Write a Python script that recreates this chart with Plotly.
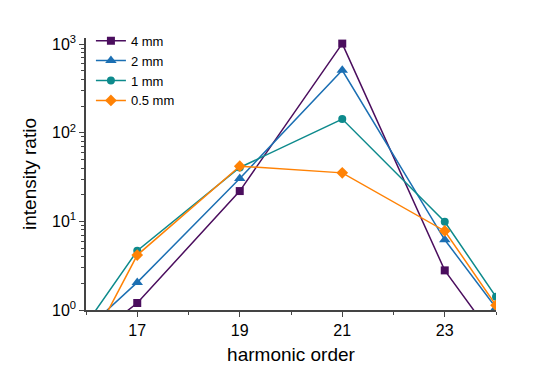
import plotly.graph_objects as go

# harmonic order (the outer points lie below 1 and are clipped by the axes)
harmonic = [16, 17, 19, 21, 23, 24]

ratio_4mm = [0.42, 1.2, 22, 1016, 2.8, 0.45]
ratio_2mm = [0.6, 2.05, 30.5, 508, 6.2, 1.06]
ratio_1mm = [0.69, 4.66, 40.6, 143, 9.9, 1.41]
ratio_05mm = [0.33, 4.17, 42, 35.3, 7.8, 1.13]

series = [
    ("4 mm", ratio_4mm, "#4b0e5e", "square", 8),
    ("2 mm", ratio_2mm, "#1b6fb3", "triangle-up", 10),
    ("1 mm", ratio_1mm, "#0d8a8c", "circle", 8),
    ("0.5 mm", ratio_05mm, "#ff8205", "diamond", 9),
]

x_ticks = [17, 19, 21, 23]
y_ticks = [1, 10, 100, 1000]
y_ticktext = ["10<sup>0</sup>", "10<sup>1</sup>", "10<sup>2</sup>", "10<sup>3</sup>"]
y_minor = [m * d for d in (1, 10, 100) for m in range(2, 10)]

fig = go.Figure()
for name, vals, col, sym, msize in series:
    fig.add_trace(go.Scatter(
        x=harmonic,
        y=vals,
        name=name,
        mode="lines+markers",
        line=dict(color=col, width=1.5),
        marker=dict(color=col, symbol=sym, size=msize),
    ))

# page body has an 8px margin, so the figure is 8px smaller and shifted
fig.update_layout(
    width=532, height=371,
    margin=dict(l=78, r=44, t=30, b=69, autoexpand=False),
    paper_bgcolor="white", plot_bgcolor="white",
    font=dict(family="Liberation Sans, Arial", color="black"),
    legend=dict(x=0.012, y=1.045, xanchor="left", yanchor="top",
                font=dict(size=13), bgcolor="rgba(0,0,0,0)",
                tracegroupgap=0, itemwidth=30),
    showlegend=True,
)

fig.update_xaxes(
    range=[16, 24], tickvals=x_ticks, ticks="outside", ticklen=5,
    showline=True, linecolor="#444", linewidth=1.5, showgrid=False,
    zeroline=False, tickfont=dict(size=16), automargin=False,
    minor=dict(tickvals=[16, 18, 20, 22, 24], ticks="outside", ticklen=3),
    title=dict(text="harmonic order", font=dict(size=19), standoff=10),
)
fig.update_yaxes(
    type="log", range=[0, 3.07], tickvals=y_ticks, ticktext=y_ticktext,
    ticks="outside", ticklen=5, showline=True, linecolor="#444", linewidth=1.5,
    showgrid=False, zeroline=False, tickfont=dict(size=16), automargin=False,
    minor=dict(tickvals=y_minor, ticks="outside", ticklen=3),
    title=dict(text="intensity ratio", font=dict(size=19), standoff=10),
)

fig.write_html("out.html")
